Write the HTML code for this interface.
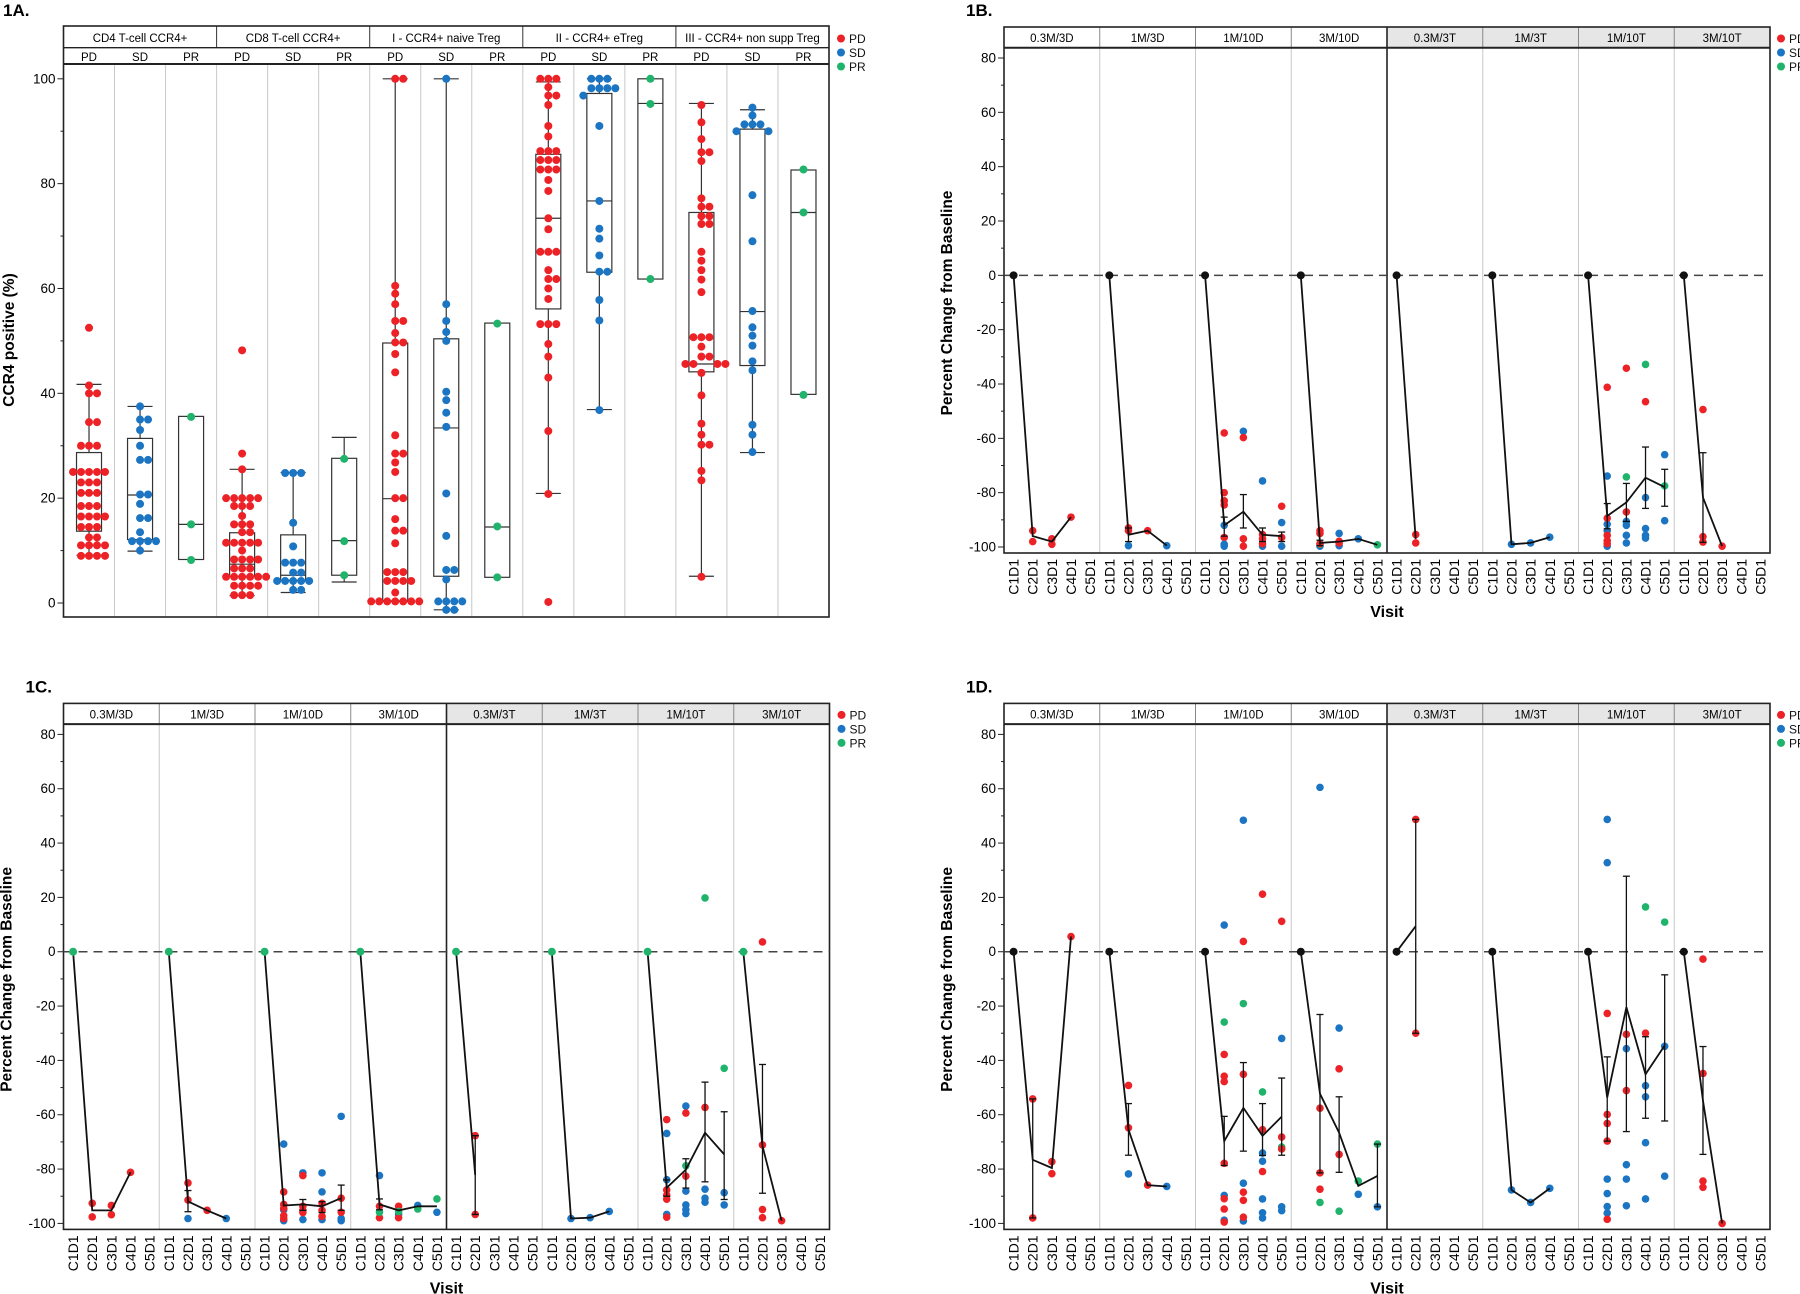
<!DOCTYPE html>
<html><head><meta charset="utf-8"><style>
html,body{margin:0;padding:0;background:#fff;}
svg{display:block;font-family:"Liberation Sans",Arial,sans-serif;}
</style></head><body>
<svg id="fig" width="1800" height="1294" viewBox="0 0 1800 1294" xmlns="http://www.w3.org/2000/svg">
<rect x="0" y="0" width="1800" height="1294" fill="#fff"/>
</svg>
<script>
// ===== Panel 1A data =====
const aGroups = ['CD4 T-cell CCR4+','CD8 T-cell CCR4+','I - CCR4+ naive Treg','II - CCR4+ eTreg','III - CCR4+ non supp Treg'];
const aResp = ['PD','SD','PR'];
const aWhiskLo = [9.1,9.9,8.3, 1.4,2,4, 0.3,-1.3,4.9, 20.9,36.9,61.8, 5.1,28.7,39.8];
const aQ1 = [13.7,12.1,8.3, 5,4.3,5.3, 0.4,5.1,4.9, 56.1,63.1,61.8, 44.1,45.3,39.8];
const aMed = [20.9,20.6,15, 7.4,5.3,11.9, 19.9,33.4,14.5, 73.4,76.7,95.3, 45.6,55.6,74.5];
const aQ3 = [28.7,31.4,35.6, 13.4,13,27.6, 49.6,50.4,53.4, 85.6,97.2,100, 74.5,90.4,82.6];
const aWhiskHi = [41.7,37.5,35.6, 25.5,24.9,31.6, 100,100,53.4, 99.4,100,100, 95.3,94.1,82.6];
const aPts = [
 [52.5,41.5,40,40,34.5,34.5,30,30,30,25,25,25,25,25,23,23,23,21,21,21,18.5,18.5,18.5,16.5,16.5,16.5,16.5,14.5,14.5,14.5,12.5,12.5,11,11,11,11,9,9,9,9],
 [37.5,35,35,33,30,27.3,27.3,20.7,20.7,18.9,16.2,16.2,13.5,11.8,11.8,11.8,11.8,10],
 [35.5,15,8.2],
 [48.2,28.5,25.5,20,20,20,20,20,18.5,18.5,18.5,16.6,15,15,15,13.5,13.5,11.5,11.5,11.5,11.5,11.5,10,8.3,8.3,8.3,8.3,6.6,6.6,6.6,5,5,5,5,5,5,3.3,3.3,3.3,3.3,1.5,1.5,1.5],
 [24.8,24.8,24.8,15.3,10.8,7.7,7.7,7.7,5.8,5.8,4.2,4.2,4.2,4.2,4.2,2.5,2.5],
 [27.5,11.8,5.3],
 [100,100,60.5,59,57,53.8,53.8,51.5,49.7,49.7,47.5,44,32,28.5,28.5,26.8,25,20,20,16,13.8,13.8,11.4,5.9,5.9,5.9,4.2,4.2,4.2,4.2,2,0.3,0.3,0.3,0.3,0.3,0.3,0.3],
 [100,57,53.8,51.7,50,40.3,38.7,36.3,33.6,20.9,12.8,6.3,6.3,4.5,0.3,0.3,0.3,0.3,-1.3,-1.3],
 [53.3,14.6,4.9],
 [100,100,100,98.4,96.8,96.8,95,91,89,86.2,86.2,86.2,84.5,84.5,84.5,82.7,82.7,82.7,80.7,78.6,73.4,71.3,67,67,67,63.5,61.8,61.8,60,58,53.2,53.2,53.2,49.4,47,43,32.8,20.8,0.2],
 [100,100,100,98.2,98.2,98.2,98.2,96.8,91,76.7,71.4,69.5,66.3,63.2,63.2,57.8,53.9,36.8],
 [100,95.2,61.8],
 [95,91.7,88.5,86,86,84.3,77.2,75.6,75.6,73.8,73.8,72.3,72.3,67,65.3,63.5,61.7,59.3,50.7,50.7,50.7,48.9,47,47,45.6,45.6,45.6,45.6,43.9,39.6,34.2,32.1,30.2,30.2,25.2,23.4,5],
 [94.5,93,91.3,91.3,91.3,90,90,77.8,69,55.7,52.6,51,49.1,46.1,44.4,34,32.1,28.8],
 [82.7,74.5,39.7]
];
const aTicks = [0,20,40,60,80,100];

// ===== Shared for 1B-1D =====
const dosePanels = ['0.3M/3D','1M/3D','1M/10D','3M/10D','0.3M/3T','1M/3T','1M/10T','3M/10T'];
const visits = ['C1D1','C2D1','C3D1','C4D1','C5D1'];
const pctTicks = [-100,-80,-60,-40,-20,0,20,40,60,80];

// ===== Panel 1B data: [panel, visit, value, response] =====
const bPts = [
 [0,1,-94,'PD'],[0,1,-98,'PD'],[0,2,-97,'PD'],[0,2,-99,'PD'],[0,3,-89,'PD'],
 [1,1,-93,'PD'],[1,1,-94,'PD'],[1,1,-99.5,'SD'],[1,2,-94,'PD'],[1,3,-99.5,'SD'],
 [2,1,-58,'PD'],[2,1,-80,'PD'],[2,1,-83,'PD'],[2,1,-84.5,'PD'],[2,1,-96.5,'PD'],[2,1,-92,'SD'],[2,1,-99,'SD'],[2,1,-99.7,'SD'],
 [2,2,-57.4,'SD'],[2,2,-59.7,'PD'],[2,2,-97,'PD'],[2,2,-99.7,'PD'],
 [2,3,-75.7,'SD'],[2,3,-99.7,'SD'],[2,3,-95.4,'PD'],[2,3,-97,'PD'],[2,3,-98.8,'PD'],
 [2,4,-85,'PD'],[2,4,-96.5,'PD'],[2,4,-91,'SD'],[2,4,-99.7,'SD'],
 [3,1,-99.7,'SD'],[3,1,-99,'PR'],[3,1,-94,'PD'],[3,1,-95,'PD'],[3,1,-98.8,'PD'],
 [3,2,-95,'SD'],[3,2,-99.5,'SD'],[3,2,-97.9,'PD'],[3,2,-98.5,'PD'],[3,3,-97,'SD'],[3,4,-99.2,'PR'],
 [4,1,-95.4,'PD'],[4,1,-98.5,'PD'],
 [5,1,-99,'SD'],[5,2,-98.5,'SD'],[5,3,-96.4,'SD'],
 [6,1,-73.9,'SD'],[6,1,-91.6,'SD'],[6,1,-94,'SD'],[6,1,-99.7,'SD'],[6,1,-41.2,'PD'],[6,1,-89.4,'PD'],[6,1,-95.7,'PD'],[6,1,-97.7,'PD'],[6,1,-98.8,'PD'],
 [6,2,-90.6,'SD'],[6,2,-92,'SD'],[6,2,-95.7,'SD'],[6,2,-98.5,'SD'],[6,2,-34.2,'PD'],[6,2,-87.1,'PD'],[6,2,-74.2,'PR'],
 [6,3,-81.8,'SD'],[6,3,-93.2,'SD'],[6,3,-95.7,'SD'],[6,3,-96.7,'SD'],[6,3,-46.5,'PD'],[6,3,-32.8,'PR'],
 [6,4,-66,'SD'],[6,4,-90.3,'SD'],[6,4,-77.5,'PR'],
 [7,1,-49.4,'PD'],[7,1,-96.2,'PD'],[7,1,-98.2,'PD'],[7,2,-99.7,'PD']
];
const bMean = [[0,-96,-98,-89,null],[0,-95.5,-94,-99.5,null],[0,-92,-87,-95.5,-96],[0,-98.5,-98,-97,-99.2],
 [0,-97,null,null,null],[0,-99,-98.5,-96.4,null],[0,-88.6,-83.6,-74.5,-78],[0,-81.8,-99.7,null,null]];
const bErrHi = [[null,null,null,null,null],[null,-93,null,null,null],[null,-89,-80.7,-93,-94.5],[null,-97.5,null,null,null],
 [null,null,null,null,null],[null,null,null,null,null],[null,-84,-76.6,-63.2,-71.4],[null,-65.3,null,null,null]];
const bErrLo = [[null,null,null,null,null],[null,-98,null,null,null],[null,-96,-93,-98,-98],[null,-99.5,null,null,null],
 [null,null,null,null,null],[null,null,null,null,null],[null,-93.3,-90.6,-85.8,-85],[null,-98.3,null,null,null]];

// ===== Panel 1C data =====
const cPts = [
 [0,1,-92.6,'PD'],[0,1,-97.6,'PD'],[0,2,-93.4,'PD'],[0,2,-96.8,'PD'],[0,3,-81.2,'PD'],
 [1,1,-85.1,'PD'],[1,1,-91.4,'PD'],[1,1,-98.2,'SD'],[1,2,-95.2,'PD'],[1,3,-98.2,'SD'],
 [2,1,-70.8,'SD'],[2,1,-95,'SD'],[2,1,-99,'SD'],[2,1,-88.4,'PD'],[2,1,-93,'PD'],[2,1,-94.4,'PD'],[2,1,-97.1,'PD'],[2,1,-98.2,'PD'],
 [2,2,-81.4,'SD'],[2,2,-98.6,'SD'],[2,2,-82.4,'PD'],[2,2,-93.7,'PD'],[2,2,-95.2,'PD'],[2,2,-96,'PD'],
 [2,3,-81.4,'SD'],[2,3,-88.4,'SD'],[2,3,-98.6,'SD'],[2,3,-92.6,'PD'],[2,3,-95.2,'PD'],[2,3,-97.4,'PD'],
 [2,4,-60.6,'SD'],[2,4,-98.2,'SD'],[2,4,-99,'SD'],[2,4,-90.7,'PD'],[2,4,-95.9,'PD'],
 [3,1,-82.4,'SD'],[3,1,-93.7,'PD'],[3,1,-97.9,'PD'],[3,1,-95.9,'PR'],
 [3,2,-96.7,'SD'],[3,2,-93.7,'PD'],[3,2,-97.9,'PD'],[3,2,-95.6,'PR'],
 [3,3,-93.4,'SD'],[3,3,-94.7,'PR'],[3,4,-95.9,'SD'],[3,4,-91,'PR'],
 [4,1,-67.7,'PD'],[4,1,-96.7,'PD'],
 [5,1,-98.2,'SD'],[5,2,-97.9,'SD'],[5,3,-95.6,'SD'],
 [6,1,-66.9,'SD'],[6,1,-83.9,'SD'],[6,1,-96.7,'SD'],[6,1,-61.8,'PD'],[6,1,-87.7,'PD'],[6,1,-89.6,'PD'],[6,1,-91.1,'PD'],[6,1,-97.7,'PD'],
 [6,2,-56.8,'SD'],[6,2,-88.1,'SD'],[6,2,-93.2,'SD'],[6,2,-94.9,'SD'],[6,2,-96.4,'SD'],[6,2,-59.4,'PD'],[6,2,-82.6,'PD'],[6,2,-78.8,'PR'],
 [6,3,-87.4,'SD'],[6,3,-90.7,'SD'],[6,3,-92.2,'SD'],[6,3,-57.3,'PD'],[6,3,19.8,'PR'],
 [6,4,-88.7,'SD'],[6,4,-93.2,'SD'],[6,4,-42.9,'PR'],
 [7,1,3.6,'PD'],[7,1,-71.1,'PD'],[7,1,-94.9,'PD'],[7,1,-97.9,'PD'],[7,2,-99,'PD']
];
const cMean = [[0,-95.2,-95.2,-81.2,null],[0,-91.9,-95.2,-98.2,null],[0,-93.4,-93,-93.7,-90.7],[0,-93,-95.2,-93.7,-93.7],
 [0,-82.2,null,null,null],[0,-98.2,-97.9,-95.6,null],[0,-86.9,-80.2,-66.6,-74.6],[0,-71.6,-99,null,null]];
const cErrHi = [[null,null,null,null,null],[null,-87.9,null,null,null],[null,null,-91.2,-92,-85.9],[null,-91,null,null,null],
 [null,-67.7,null,null,null],[null,null,null,null,null],[null,-84,-76.2,-48,-58.9],[null,-41.5,null,null,null]];
const cErrLo = [[null,null,null,null,null],[null,-95.7,null,null,null],[null,null,-95.2,-96,-95.2],[null,-95,null,null,null],
 [null,-96.7,null,null,null],[null,null,null,null,null],[null,-90,-87,-84.7,-91.2],[null,-88.9,null,null,null]];

// ===== Panel 1D data =====
const dPts = [
 [0,1,-54.2,'PD'],[0,1,-98,'PD'],[0,2,-77.3,'PD'],[0,2,-81.7,'PD'],[0,3,5.6,'PD'],
 [1,1,-49.2,'PD'],[1,1,-64.8,'PD'],[1,1,-81.8,'SD'],[1,2,-85.9,'PD'],[1,3,-86.4,'SD'],
 [2,1,9.8,'SD'],[2,1,-89.7,'SD'],[2,1,-98.8,'SD'],[2,1,-25.9,'PR'],[2,1,-37.8,'PD'],[2,1,-45.8,'PD'],[2,1,-47.8,'PD'],[2,1,-77.9,'PD'],[2,1,-90.9,'PD'],[2,1,-94.7,'PD'],[2,1,-99.5,'PD'],
 [2,2,48.4,'SD'],[2,2,-85.2,'SD'],[2,2,-99.1,'SD'],[2,2,3.8,'PD'],[2,2,-19.1,'PR'],[2,2,-45.1,'PD'],[2,2,-88.5,'PD'],[2,2,-91.5,'PD'],[2,2,-97.7,'PD'],
 [2,3,21.2,'PD'],[2,3,-51.6,'PR'],[2,3,-65.5,'PD'],[2,3,-74.1,'SD'],[2,3,-77.1,'SD'],[2,3,-80.9,'PD'],[2,3,-91,'SD'],[2,3,-96.1,'SD'],[2,3,-98,'SD'],
 [2,4,11.2,'PD'],[2,4,-31.9,'SD'],[2,4,-68.2,'PD'],[2,4,-71.9,'PR'],[2,4,-72.6,'PD'],[2,4,-93.9,'SD'],[2,4,-95.3,'SD'],
 [3,1,60.5,'SD'],[3,1,-57.6,'PD'],[3,1,-81.4,'PD'],[3,1,-87.4,'PD'],[3,1,-92.3,'PR'],
 [3,2,-28.1,'SD'],[3,2,-43.1,'PD'],[3,2,-74.6,'PD'],[3,2,-95.5,'PR'],
 [3,3,-84.4,'PR'],[3,3,-89.3,'SD'],[3,4,-70.8,'PR'],[3,4,-93.9,'SD'],
 [4,1,48.7,'PD'],[4,1,-30,'PD'],
 [5,1,-87.7,'SD'],[5,2,-92.3,'SD'],[5,3,-87.1,'SD'],
 [6,1,48.7,'SD'],[6,1,32.8,'SD'],[6,1,-22.7,'PD'],[6,1,-59.9,'PD'],[6,1,-63.2,'PD'],[6,1,-69.7,'PD'],[6,1,-83.7,'SD'],[6,1,-89,'SD'],[6,1,-93.8,'SD'],[6,1,-96.2,'SD'],[6,1,-98.5,'PD'],
 [6,2,-30.4,'PD'],[6,2,-35.7,'SD'],[6,2,-51.1,'PD'],[6,2,-78.4,'SD'],[6,2,-83.7,'SD'],[6,2,-93.5,'SD'],
 [6,3,16.5,'PR'],[6,3,-30,'PD'],[6,3,-49.3,'SD'],[6,3,-53.4,'SD'],[6,3,-70.3,'SD'],[6,3,-91,'SD'],
 [6,4,10.9,'PR'],[6,4,-34.8,'SD'],[6,4,-82.6,'SD'],
 [7,1,-2.7,'PD'],[7,1,-44.8,'PD'],[7,1,-84.4,'PD'],[7,1,-86.7,'PD'],[7,2,-100,'PD']
];
const dMean = [[0,-76.6,-79.6,5.6,null],[0,-65.5,-85.9,-86.4,null],[0,-69.7,-57.5,-67.8,-60.7],[0,-52.3,-66.6,-86.2,-82.5],
 [0,9.4,null,null,null],[0,-87.7,-92.3,-87.1,null],[0,-53.7,-20.4,-45.1,-34.5],[0,-54.9,-100,null,null]];
const dErrHi = [[null,-54.2,null,null,null],[null,-55.9,null,null,null],[null,-60.6,-40.8,-55.9,-46.5],[null,-23.1,-53.4,null,-70.8],
 [null,48.7,null,null,null],[null,null,null,null,null],[null,-38.7,27.8,-31.3,-8.5],[null,-34.9,null,null,null]];
const dErrLo = [[null,-98,null,null,null],[null,-74.9,null,null,null],[null,-78.7,-73.4,-75,-74.9],[null,-81.4,-81.2,null,-93.9],
 [null,-30,null,null,null],[null,null,null,null,null],[null,-69.7,-66.2,-61.3,-62.3],[null,-74.6,null,null,null]];

// ===== drawing =====
const COL = {PD:'#ec2227', SD:'#1b75c2', PR:'#1fb36b'};
const NS = 'http://www.w3.org/2000/svg';
const svg = document.getElementById('fig');
function mk(tag, attrs, parent){
  const el = document.createElementNS(NS, tag);
  for (const k in attrs) el.setAttribute(k, attrs[k]);
  (parent||svg).appendChild(el);
  return el;
}
function txt(s, attrs, parent){ const t = mk('text', attrs, parent); t.textContent = s; return t; }

function legend(x, y0){
  const g = mk('g', {});
  
  
  aResp.forEach((r,i)=>{
    const y = y0 + i*14;
    const c = mk('circle', {cx:x, cy:y, r:4, fill:COL[r]}, g);
    
    
    const t = txt(r, {x:x+8, y:y+4.5, 'font-size':12, fill:'#111'}, g);
    
    
  });
}

function swarm(vals, cx, yf, r, color, g, nm){
  const placed = [];
  const sorted = vals.slice().sort((a,b)=>b-a);
  sorted.forEach(v=>{
    const y = yf(v);
    let off = 0;
    for (let k=0;k<40;k++){
      const cand = k===0?0:(k%2?1:-1)*Math.ceil(k/2)*2*r;
      const ok = placed.every(p=>Math.hypot(p[0]-(cx+cand), p[1]-y) >= 2*r-0.5);
      if (ok){ off = cand; break; }
    }
    placed.push([cx+off, y]);
    const c = mk('circle', {cx:cx+off, cy:y, r:r, fill:color}, g);
    
    
  });
}

// ---------- 1A ----------
(function(){
  const X0=63.5, X1=829, YT=26, YH1=47.7, YH2=64, YB=617;
  const y = v => 603 - v*5.242;
  const cw = (X1-X0)/15;
  const g = mk('g', {});
  
  
  const lab = txt('1A.', {x:3, y:16, 'font-size':17, 'font-weight':'bold'}, g);
  
  
  for (let i=1;i<15;i++){
    const l = mk('line', {x1:X0+i*cw, x2:X0+i*cw, y1:YH2, y2:YB, stroke:'#c8c8c8', 'stroke-width':1}, g);
    
    
  }
  // header
  aGroups.forEach((n,i)=>{
    const t = txt(n, {x:X0+(i*3+1.5)*cw, y:42, 'font-size':11.5, 'text-anchor':'middle'}, g);
    
    
    if (i>0){
      const l = mk('line', {x1:X0+i*3*cw, x2:X0+i*3*cw, y1:YT, y2:YH1, stroke:'#333', 'stroke-width':1}, g);
      
      
    }
    aResp.forEach((r,j)=>{
      const s = txt(r, {x:X0+(i*3+j+0.5)*cw, y:61, 'font-size':11.5, 'text-anchor':'middle'}, g);
      
      
    });
  });
  mk('line', {x1:X0, x2:X1, y1:YH1, y2:YH1, stroke:'#222', 'stroke-width':1.3}, g);
  mk('line', {x1:X0, x2:X1, y1:YH2, y2:YH2, stroke:'#222', 'stroke-width':2}, g);
  const fr = mk('rect', {x:X0, y:YT, width:X1-X0, height:YB-YT, fill:'none', stroke:'#222', 'stroke-width':1.6}, g);
  
  
  // y ticks
  for (let v=0; v<=100; v+=10){
    mk('line', {x1:X0-(v%20?3:6), x2:X0, y1:y(v), y2:y(v), stroke:'#222', 'stroke-width':1}, g);
  }
  aTicks.forEach(v=>{
    const t = txt(String(v), {x:X0-8, y:y(v)+4.5, 'font-size':13.5, 'text-anchor':'end'}, g);
    
    
  });
  const yt = txt('CCR4 positive (%)', {x:0, y:0, 'font-size':15.5, 'font-weight':'bold', 'text-anchor':'middle', transform:'translate(14,340) rotate(-90)'}, g);
  
  
  // boxes
  for (let i=0;i<15;i++){
    const cx = X0+(i+0.5)*cw, bw = 25;
    const bg = mk('g', {}, g);
    
    
    const st = {stroke:'#333', 'stroke-width':1.2, fill:'none'};
    mk('line', Object.assign({x1:cx, x2:cx, y1:y(aWhiskHi[i]), y2:y(aQ3[i])}, st), bg);
    mk('line', Object.assign({x1:cx, x2:cx, y1:y(aQ1[i]), y2:y(aWhiskLo[i])}, st), bg);
    if (aWhiskHi[i]>aQ3[i]) mk('line', Object.assign({x1:cx-bw/2, x2:cx+bw/2, y1:y(aWhiskHi[i]), y2:y(aWhiskHi[i])}, st), bg);
    if (aWhiskLo[i]<aQ1[i]) mk('line', Object.assign({x1:cx-bw/2, x2:cx+bw/2, y1:y(aWhiskLo[i]), y2:y(aWhiskLo[i])}, st), bg);
    mk('rect', Object.assign({x:cx-bw/2, y:y(aQ3[i]), width:bw, height:y(aQ1[i])-y(aQ3[i])}, st), bg);
    mk('line', Object.assign({x1:cx-bw/2, x2:cx+bw/2, y1:y(aMed[i]), y2:y(aMed[i])}, st), bg);
    swarm(aPts[i], cx, y, 4, COL[aResp[i%3]], bg, 'point-' + aResp[i%3].toLowerCase());
  }
  legend(841, 38.5);
})();

// ---------- line panels ----------
function linePanel(id, X0, YT, pts, mean, eHi, eLo, baseColor, showLegendX){
  const X1 = X0+766, YH = YT+20.7, Y80 = YT+31, Y100 = YT+520, YB = YT+526;
  const y = v => Y80 + (80-v)*(Y100-Y80)/180;
  const pw = (X1-X0)/8;
  const x = (p,vi) => X0 + p*pw + (vi+0.5)*pw/5;
  const g = mk('g', {});
  
  
  const lab = txt(id.toUpperCase().replace(/^(\d)(\w)$/,'$1$2') + '.', {x:X0-38, y:YT-11, 'font-size':17, 'font-weight':'bold'}, g);
  
  
  // header bg for T panels
  const hb = mk('rect', {x:X0+4*pw, y:YT, width:4*pw, height:YH-YT, fill:'#e6e6e6'}, g);
  
  
  dosePanels.forEach((n,i)=>{
    const t = txt(n, {x:X0+(i+0.5)*pw, y:YT+15, 'font-size':11.5, 'text-anchor':'middle'}, g);
    
    
    if (i>0){
      mk('line', {x1:X0+i*pw, x2:X0+i*pw, y1:YT, y2:YH, stroke:'#888', 'stroke-width':1}, g);
      if (i!==4){
        const l = mk('line', {x1:X0+i*pw, x2:X0+i*pw, y1:YH, y2:YB, stroke:'#c8c8c8', 'stroke-width':1}, g);
        
        
      }
    }
    visits.forEach((v,j)=>{
      const t2 = txt(v, {x:0, y:0, 'font-size':14, 'text-anchor':'end', transform:'translate('+(x(i,j)+5)+','+(YB+6)+') rotate(-90)'}, g);
      
      
    });
  });
  mk('line', {x1:X0+4*pw, x2:X0+4*pw, y1:YT, y2:YB, stroke:'#222', 'stroke-width':1.6}, g);
  mk('line', {x1:X0, x2:X1, y1:YH, y2:YH, stroke:'#222', 'stroke-width':2}, g);
  const fr = mk('rect', {x:X0, y:YT, width:X1-X0, height:YB-YT, fill:'none', stroke:'#222', 'stroke-width':1.6}, g);
  
  
  for (let v=-100; v<=80; v+=10){
    mk('line', {x1:X0-(v%20?3:6), x2:X0, y1:y(v), y2:y(v), stroke:'#222', 'stroke-width':1}, g);
  }
  pctTicks.forEach(v=>{
    const t = txt(String(v), {x:X0-8, y:y(v)+4.5, 'font-size':13.5, 'text-anchor':'end'}, g);
    
    
  });
  const yt = txt('Percent Change from Baseline', {x:0, y:0, 'font-size':15.5, 'font-weight':'bold', 'text-anchor':'middle', transform:'translate('+(X0-52)+','+(YT+276)+') rotate(-90)'}, g);
  
  
  const xt = txt('Visit', {x:(X0+X1)/2, y:YB+64, 'font-size':16, 'font-weight':'bold', 'text-anchor':'middle'}, g);
  
  
  const zl = mk('line', {x1:X0, x2:X1, y1:y(0), y2:y(0), stroke:'#444', 'stroke-width':1.5, 'stroke-dasharray':'9,6'}, g);
  
  
  // points
  pts.forEach(p=>{
    const c = mk('circle', {cx:x(p[0],p[1]), cy:y(p[2]), r:3.8, fill:COL[p[3]]}, g);
    
    
  });
  // mean lines + error bars
  mean.forEach((m,p)=>{
    let d = '';
    m.forEach((v,j)=>{ if (v!==null) d += (d?'L':'M') + x(p,j).toFixed(1) + ',' + y(v).toFixed(1); });
    const pl = mk('path', {d:d, fill:'none', stroke:'#111', 'stroke-width':1.8}, g);
    
    
    eHi[p].forEach((hi,j)=>{
      const lo = eLo[p][j];
      if (hi===null || lo===null) return;
      const xx = x(p,j);
      const eg = mk('g', {stroke:'#111', 'stroke-width':1.3}, g);
      
      
      mk('line', {x1:xx, x2:xx, y1:y(hi), y2:y(lo)}, eg);
      mk('line', {x1:xx-3.5, x2:xx+3.5, y1:y(hi), y2:y(hi)}, eg);
      mk('line', {x1:xx-3.5, x2:xx+3.5, y1:y(lo), y2:y(lo)}, eg);
    });
    const b = mk('circle', {cx:x(p,0), cy:y(m[0]), r:4, fill:baseColor}, g);
    
    
  });
  legend(X1 + (X0<500?12:11), YT + 11.5);
}
linePanel('1b', 1004, 27, bPts, bMean, bErrHi, bErrLo, '#111');
linePanel('1c', 63.5, 703.4, cPts, cMean, cErrHi, cErrLo, COL.PR);
linePanel('1d', 1004, 703.4, dPts, dMean, dErrHi, dErrLo, '#111');
</script>
</body></html>
